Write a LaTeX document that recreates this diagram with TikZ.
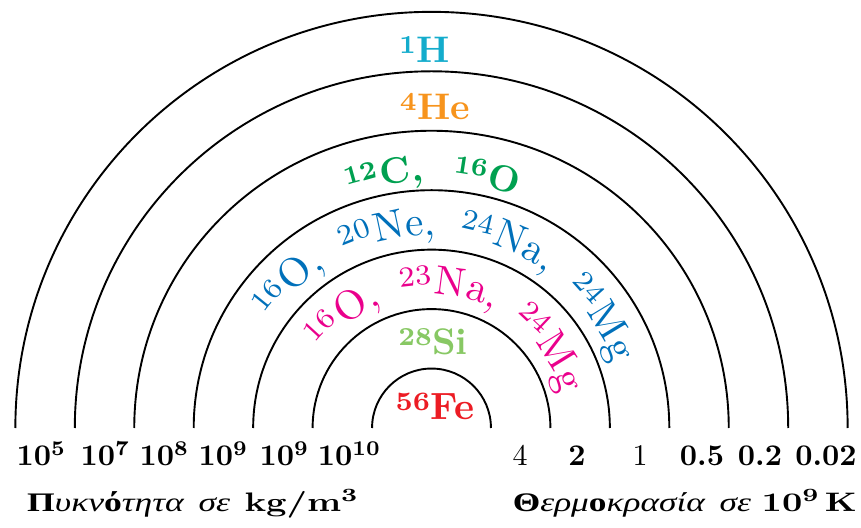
\documentclass[tikz,border=0pt]{standalone}
\usepackage{fontspec}
\usepackage{graphicx}
\setmainfont{lmroman10-regular.otf}[BoldFont=lmroman10-bold.otf]
\newfontfamily\supfont{lmroman7-regular.otf}[BoldFont=lmroman7-bold.otf]
\newfontfamily\grk{Liberation Serif}
\usetikzlibrary{calc}
\definecolor{cH}{RGB}{20,172,204}
\definecolor{cHe}{RGB}{247,148,29}
\definecolor{cCO}{RGB}{0,160,80}
\definecolor{cBlue}{RGB}{0,112,186}
\definecolor{cPink}{RGB}{234,0,140}
\definecolor{cSi}{RGB}{136,200,100}
\definecolor{cFe}{RGB}{236,28,36}
\newcommand\sups[1]{\textsuperscript{\supfont #1}}
\def\gapmark{|}
% #1 name, #2 baseline radius (pt), #3 start angle, #4 font cmds, #5 colour, #6 gap (pt), #7 pieces
\newcommand\arctext[7]{%
  \xdef\arcang{#3}%
  \foreach \p [count=\i] in {#7}{%
    \ifx\p\gapmark
      \pgfmathsetmacro\arcnxt{\arcang-#6/#2*57.29578}%
    \else
      \pgfinterruptpicture\global\setbox1=\hbox{#4\p}\endpgfinterruptpicture
      \edef\arcw{\the\wd1}%
      \pgfmathsetmacro\arcmid{\arcang-0.5*\arcw/#2*57.29578}%
      \pgfmathsetmacro\arcnxt{\arcang-\arcw/#2*57.29578}%
      \node[anchor=base,inner sep=0pt,outer sep=0pt,text=#5,rotate=\arcmid-90] (#1\i) at ([shift={(\arcmid:#2pt)}]O) {#4\p};%
    \fi
    \global\let\arcang\arcnxt
  }%
}
\begin{document}
\begin{tikzpicture}[x=1pt,y=1pt,
  ring/.style={line width=1.9pt,black},
  lab/.style={anchor=base,inner sep=0pt},
  num/.style={anchor=base,inner sep=0pt,font=\fontsize{30}{32}\selectfont},
  axl/.style={inner sep=0pt,font=\fontsize{26}{28}\selectfont}]
\useasboundingbox (0,0) rectangle (861,527);
\coordinate (O) at (431.5,99);
\foreach \k in {1,...,7}
  \draw[ring] ([xshift=\k*59.45pt]O) arc[start angle=0,end angle=180,radius=\k*59.45pt];
% straight element labels
\node[lab,text=cH,font=\fontsize{37}{40}\selectfont\bfseries] (H) at (424.5,464) {\sups{1}H};
\node[lab,text=cHe,font=\fontsize{37}{40}\selectfont\bfseries] (He) at (435,407) {\sups{4}He};
\node[lab,text=cSi,font=\fontsize{37}{40}\selectfont\bfseries] (Si) at (433,172) {\sups{28}Si};
\node[lab,text=cFe,font=\fontsize{38}{40}\selectfont\bfseries] (Fe) at (435,107) {\sups{56}Fe};
% curved element labels
\arctext{co}{247}{109.5}{\fontsize{37}{40}\selectfont\bfseries}{cCO}{28}%
  {{\sups{12}},C,{,},|,{\sups{16}},O}
\arctext{bl}{193}{146}{\fontsize{41}{44}\selectfont}{cBlue}{23}%
  {{\sups{16}},O,{,},|,{\sups{20}},N,e,{,},|,{\sups{24}},N,a,{,},|,{\sups{24}},M,g}
\arctext{pk}{134}{144.5}{\fontsize{41}{44}\selectfont}{cPink}{20}%
  {{\sups{16}},O,{,},|,{\sups{23}},N,a,{,},|,{\sups{24}},M,g}
% density values
\node[num] (d1) at (41,62) {\textbf{10\sups{5}}};
\node[num] (d2) at (105,62) {\textbf{10\sups{7}}};
\node[num] (d3) at (164,62) {\textbf{10\sups{8}}};
\node[num] (d4) at (223,62) {\textbf{10\sups{9}}};
\node[num] (d5) at (284,62) {\textbf{10\sups{9}}};
\node[num] (d6) at (349,62) {\textbf{10\sups{10}}};
% temperature values
\node[num] (t1) at (520,62) {4};
\node[num] (t2) at (577,62) {\textbf{2}};
\node[num] (t3) at (640,62) {1};
\node[num] (t4) at (702,62) {\textbf{0.5}};
\node[num] (t5) at (760,62) {\textbf{0.2}};
\node[num] (t6) at (826,62) {\textbf{0.02}};
% axis captions
\node[axl,anchor=base west] (dens) at (27,16) {\scalebox{1.37}[1.03]{{\grk\textbf{Π}\textit{υκν}\textbf{ό}\textit{τητα}\hspace{0.4em}\textit{σε}}\hspace{0.4em}\textbf{kg/m\sups{3}}}};
\node[axl,anchor=base east] (temp) at (857,16) {\scalebox{1.36}[1.03]{{\grk\textbf{Θ}\textit{ερμ}\textbf{ο}\textit{κρασία}\hspace{0.4em}\textit{σε}}\hspace{0.3em}\textbf{10\sups{9}\,K}}};
\end{tikzpicture}
\end{document}
